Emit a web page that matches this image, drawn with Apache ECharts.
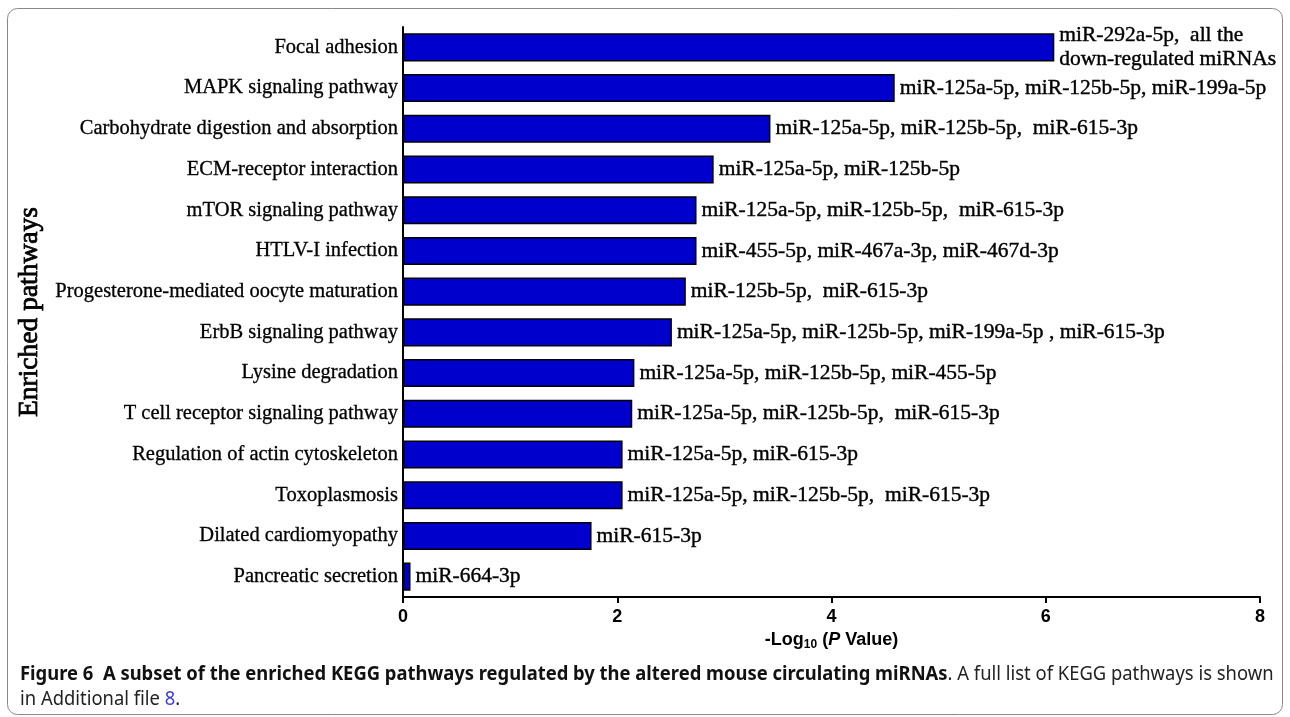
<!DOCTYPE html>
<html>
<head>
<meta charset="utf-8">
<script src="https://cdn.jsdelivr.net/npm/echarts@6/dist/echarts.min.js"></script>
<style>
  html, body { margin: 0; padding: 0; background: #fff; }
  #chart { width: 1290px; height: 717px; }
</style>
</head>
<body>
<div id="chart"></div>
<script>
// KEGG pathways, top to bottom
const pathways = [
  'Focal adhesion',
  'MAPK signaling pathway',
  'Carbohydrate digestion and absorption',
  'ECM-receptor interaction',
  'mTOR signaling pathway',
  'HTLV-I infection',
  'Progesterone-mediated oocyte maturation',
  'ErbB signaling pathway',
  'Lysine degradation',
  'T cell receptor signaling pathway',
  'Regulation of actin cytoskeleton',
  'Toxoplasmosis',
  'Dilated cardiomyopathy',
  'Pancreatic secretion'
];

// -log10(P value) for each pathway
const negLogP = [6.08, 4.59, 3.43, 2.90, 2.74, 2.74, 2.64, 2.51, 2.16, 2.14, 2.05, 2.05, 1.76, 0.07];

// miRNAs regulating each pathway
const mirnas = [
  'miR-292a-5p,  all the\ndown-regulated miRNAs',
  'miR-125a-5p, miR-125b-5p, miR-199a-5p',
  'miR-125a-5p, miR-125b-5p,  miR-615-3p',
  'miR-125a-5p, miR-125b-5p',
  'miR-125a-5p, miR-125b-5p,  miR-615-3p',
  'miR-455-5p, miR-467a-3p, miR-467d-3p',
  'miR-125b-5p,  miR-615-3p',
  'miR-125a-5p, miR-125b-5p, miR-199a-5p , miR-615-3p',
  'miR-125a-5p, miR-125b-5p, miR-455-5p',
  'miR-125a-5p, miR-125b-5p,  miR-615-3p',
  'miR-125a-5p, miR-615-3p',
  'miR-125a-5p, miR-125b-5p,  miR-615-3p',
  'miR-615-3p',
  'miR-664-3p'
];

const xTicks = { min: 0, max: 8, interval: 2 };

const captionBold = 'Figure 6  A subset of the enriched KEGG pathways regulated by the altered mouse circulating miRNAs';
const captionRest = '. A full list of KEGG pathways is shown';
const captionLine2 = 'in Additional file ';
const captionLink = '8';

const serif = '"Liberation Serif", "Times New Roman", serif';
const sans = '"Liberation Sans", Arial, sans-serif';
const capFont = '"Noto Sans", "Liberation Sans", sans-serif';

const chart = echarts.init(document.getElementById('chart'), null, { renderer: 'canvas' });

chart.setOption({
  animation: false,
  backgroundColor: '#fff',
  grid: { left: 403, right: 30, top: 27, bottom: 120, containLabel: false },
  xAxis: {
    type: 'value',
    min: xTicks.min,
    max: xTicks.max,
    interval: xTicks.interval,
    splitLine: { show: false },
    axisLine: { show: true, lineStyle: { color: '#000', width: 2 } },
    axisTick: { show: true, length: 6, lineStyle: { color: '#000', width: 2 } },
    axisLabel: {
      color: '#000', fontFamily: sans, fontWeight: 'bold', fontSize: 18, margin: 11
    },
    name: '-Log{sub|10} ({it|P} Value)',
    nameLocation: 'middle',
    nameGap: 31,
    nameTextStyle: {
      color: '#000', fontFamily: sans, fontWeight: 'bold', fontSize: 18,
      rich: {
        sub: { fontFamily: sans, fontWeight: 'bold', fontSize: 12, verticalAlign: 'bottom', padding: [9, 0, 0, 0] },
        it: { fontFamily: sans, fontWeight: 'bold', fontStyle: 'italic', fontSize: 18 }
      }
    }
  },
  yAxis: {
    type: 'category',
    data: pathways,
    inverse: true,
    axisLine: { show: true, lineStyle: { color: '#000', width: 2 } },
    axisTick: { show: false },
    axisLabel: {
      color: '#000', fontFamily: serif, fontSize: 20.5, margin: 5,
      textBorderColor: '#000', textBorderWidth: 0.3
    },
    name: 'Enriched pathways',
    nameLocation: 'middle',
    nameRotate: 90,
    nameGap: 356,
    nameTextStyle: {
      color: '#000', fontFamily: serif, fontSize: 27.5,
      textBorderColor: '#000', textBorderWidth: 0.8
    }
  },
  series: [{
    type: 'bar',
    data: negLogP,
    barWidth: '69%',
    itemStyle: { color: '#0000CC', borderColor: '#000', borderWidth: 1.5 },
    label: {
      show: true,
      position: 'right',
      distance: 5,
      color: '#000',
      fontFamily: serif,
      fontSize: 21.5,
      lineHeight: 24,
      textBorderColor: '#000',
      textBorderWidth: 0.4,
      formatter: p => mirnas[p.dataIndex]
    }
  }],
  graphic: [
    {
      type: 'rect',
      shape: { x: 7.5, y: 8.5, width: 1275, height: 706, r: 10 },
      style: { fill: 'none', stroke: '#888', lineWidth: 1 },
      silent: true
    },
    {
      type: 'text',
      x: 20, y: 674,
      scaleX: 0.92,
      style: {
        text: '{b|' + captionBold + '}{r|' + captionRest + '}',
        verticalAlign: 'middle',
        rich: {
          b: { fontFamily: capFont, fontWeight: 'bold', fontSize: 20, fill: '#111' },
          r: { fontFamily: capFont, fontSize: 20, fill: '#222' }
        }
      }
    },
    {
      type: 'text',
      x: 20, y: 699,
      scaleX: 0.92,
      style: {
        text: '{r|' + captionLine2 + '}{l|' + captionLink + '}{r|.}',
        verticalAlign: 'middle',
        rich: {
          r: { fontFamily: capFont, fontSize: 20, fill: '#222' },
          l: { fontFamily: capFont, fontSize: 20, fill: '#3b3bd6' }
        }
      }
    }
  ]
});
</script>
</body>
</html>
